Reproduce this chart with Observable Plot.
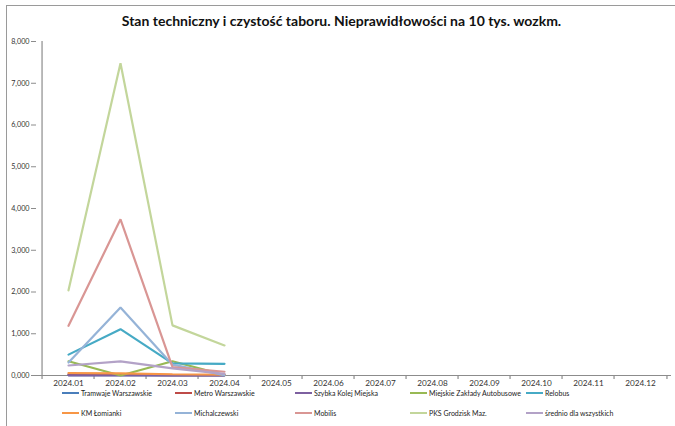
<!DOCTYPE html>
<html>
<head>
<meta charset="utf-8">
<script src="https://cdn.jsdelivr.net/npm/d3@7"></script>
<script src="https://cdn.jsdelivr.net/npm/@observablehq/plot@0.6"></script>
<style>
  html, body { margin: 0; padding: 0; background: #fff; }
  #wrap { position: relative; width: 675px; height: 426px; overflow: hidden; font-family: Lato, "Open Sans", sans-serif; }
  #border { position: absolute; left: 6px; top: 5px; right: 0; bottom: 0; border-top: 1.5px solid #9a9a9a; border-left: 1.5px solid #9a9a9a; }
  #title { position: absolute; top: 12px; left: 0; width: 683px; text-align: center; font-weight: bold; font-size: 14px; color: #111; }
  #chart { position: absolute; left: 0; top: 0; }
  .leg { position: absolute; font-size: 7px; color: #222; white-space: nowrap; display: flex; align-items: center; }
  .leg span.sw { display: inline-block; width: 17px; height: 2.5px; margin-right: 2px; }
</style>
</head>
<body>
<div id="wrap">
  <div id="border"></div>
  <div id="title">Stan techniczny i czystość taboru. Nieprawidłowości na 10 tys. wozkm.</div>
  <div id="chart"></div>
</div>
<script>
const months = ["2024.01","2024.02","2024.03","2024.04","2024.05","2024.06","2024.07","2024.08","2024.09","2024.10","2024.11","2024.12"];
const seriesNames = ["Tramwaje Warszawskie","Metro Warszawskie","Szybka Kolej Miejska","Miejskie Zakłady Autobusowe","Relobus","KM Łomianki","Michalczewski","Mobilis","PKS Grodzisk Maz.","średnio dla wszystkich"];
const seriesColors = ["#4a7ebb","#be4b48","#7d60a0","#98b954","#46aac5","#f79646","#95b3d7","#d99694","#c3d69b","#b3a2c7"];
const tramwaje = [0.010, 0.010, 0.005, 0.005];
const metro = [0.030, 0.020, 0.010, 0.010];
const skm = [0.005, 0.005, 0.002, 0.002];
const mza = [0.340, 0.000, 0.340, 0.010];
const relobus = [0.500, 1.110, 0.290, 0.280];
const kmLomianki = [0.060, 0.050, 0.030, 0.020];
const michalczewski = [0.310, 1.630, 0.260, 0.010];
const mobilis = [1.190, 3.740, 0.200, 0.090];
const pksGrodzisk = [2.040, 7.480, 1.200, 0.720];
const srednio = [0.240, 0.340, 0.170, 0.040];
const yTicks = [0, 1, 2, 3, 4, 5, 6, 7, 8];

const seriesValues = [tramwaje, metro, skm, mza, relobus, kmLomianki, michalczewski, mobilis, pksGrodzisk, srednio];
const rows = [];
seriesValues.forEach((vals, s) => vals.forEach((v, i) => rows.push({series: seriesNames[s], month: months[i], value: v})));

const W = 675, H = 388, mL = 36, mR = 4, mT = 41, mB = 13;
const step = (W - mL - mR) / months.length;
const fmt = d => d.toFixed(3).replace(".", ",");

const chart = Plot.plot({
  width: W, height: H,
  marginLeft: mL, marginRight: mR, marginTop: mT, marginBottom: mB,
  style: {fontFamily: "Lato, 'Open Sans', sans-serif", background: "transparent", overflow: "visible"},
  x: {type: "point", domain: months, padding: 0.5, label: null},
  y: {domain: [0, 8], label: null},
  color: {domain: seriesNames, range: seriesColors},
  marks: [
    Plot.ruleY([0], {stroke: "#8c8c8c", strokeWidth: 1.2}),
    Plot.ruleX([months[0]], {y1: 0, y2: 8, dx: -step / 2, stroke: "#8c8c8c", strokeWidth: 1.2}),
    Plot.ruleX(months, {x: d => d, y1: 0, y2: 0, dx: -step / 2, insetBottom: -4, stroke: "#8c8c8c", strokeWidth: 1.2}),
    Plot.ruleX([months[months.length - 1]], {y1: 0, y2: 0, dx: step / 2, insetBottom: -4, stroke: "#8c8c8c", strokeWidth: 1.2}),
    Plot.axisY({ticks: yTicks, tickFormat: fmt, tickSize: 5, tickPadding: 2, fontSize: 7.2, stroke: "#8c8c8c", fill: "#333", label: null}),
    Plot.axisX({tickSize: 0, tickPadding: 5, fontSize: 8.2, fill: "#333", label: null}),
    Plot.line(rows, {x: "month", y: "value", z: "series", stroke: "series", strokeWidth: 2.2, strokeLinejoin: "miter"})
  ]
});
document.getElementById("chart").appendChild(chart);

// legend
const wrap = document.getElementById("wrap");
const colX = [62, 175, 295, 410, 526];
const rowY = [389, 409];
seriesNames.forEach((name, i) => {
  const d = document.createElement("div");
  d.className = "leg";
  d.style.left = colX[i % 5] + "px";
  d.style.top = rowY[Math.floor(i / 5)] + "px";
  const sw = document.createElement("span");
  sw.className = "sw";
  sw.style.background = seriesColors[i];
  d.appendChild(sw);
  d.appendChild(document.createTextNode(name));
  wrap.appendChild(d);
});
</script>
</body>
</html>
